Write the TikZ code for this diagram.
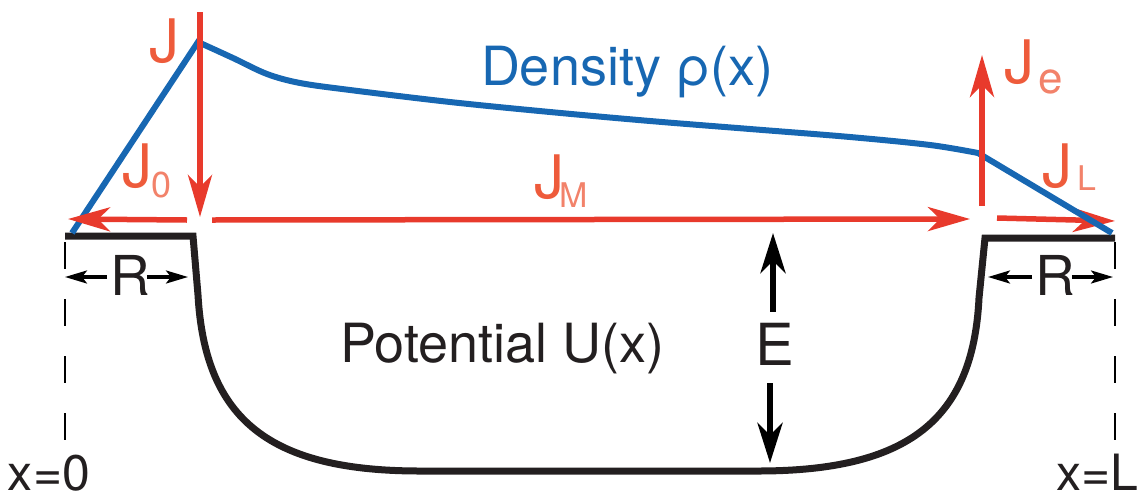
\documentclass[tikz,border=0pt]{standalone}
\usepackage{fontspec}
\setmainfont{TeX Gyre Heros}
\usetikzlibrary{arrows.meta}
\definecolor{myred}{HTML}{E83A2C}
\definecolor{jred}{HTML}{EE5B3B}
\definecolor{subred}{HTML}{F2826A}
\definecolor{myblue}{HTML}{1767B2}
\definecolor{myblack}{HTML}{231F20}
\newcommand\myfs[1]{\fontsize{#1}{#1}\selectfont}
% #1 subscript, #2 subscript size, #3 kern, #4 lowering
\newcommand\Jsub[4]{{\color{jred}J}\kern#3pt\raisebox{-#4pt}{\myfs{#2}\color{subred}#1}}
\begin{document}
\begin{tikzpicture}[x=1pt,y=-1pt,
  txt/.style={inner sep=0pt, outer sep=0pt, text=myblack},
  jlabel/.style={inner sep=0pt, outer sep=0pt, text=jred, font=\myfs{60}},
  redarrow/.style={draw=myred, line width=5.5pt, -{Stealth[length=42pt,width=24pt,inset=12pt]}},
  earrow/.style={draw=black, line width=6pt, -{Stealth[length=40pt,width=25pt,inset=12pt]}},
  rarrow/.style={draw=black, line width=3.2pt, -{Stealth[length=22pt,width=13pt,inset=5pt]}},
  potential/.style={draw=myblack, line width=7pt, line join=miter},
  density/.style={draw=myblue, line width=6pt, line join=miter},
  wall/.style={draw=black, line width=2.5pt, dash pattern=on 27pt off 30pt}]
\useasboundingbox (0,0) rectangle (1139,498);

% coordinates
\coordinate (leftend) at (65,236);
\coordinate (leftcorner) at (193,236);
\coordinate (rightcorner) at (985,238);
\coordinate (rightend) at (1115,238);
\coordinate (wallLtop) at (65,242);
\coordinate (wallLbot) at (65,441);
\coordinate (wallRtop) at (1115,242);
\coordinate (wallRbot) at (1115,441);

% walls
\draw[wall] (wallLtop) -- (wallLbot);
\draw[wall] (wallRtop) -- (wallRbot);

% potential
\draw[potential] (leftend) -- (leftcorner) -- (198,295)
  .. controls (205,420) and (270,471) .. (420,471) -- (758,471)
  .. controls (908,471) and (973,420) .. (979,298) -- (rightcorner) -- (rightend);

% J_L arrow (below density)
\coordinate (JLs) at (997,218);
\coordinate (JLe) at (1115,221);
\draw[redarrow] (JLs) -- (JLe);

% density
\coordinate (rhoL) at (72,233);
\coordinate (rhoR) at (1112,233);
\draw[density] (rhoL) -- plot[smooth, tension=0.55] coordinates {(198,42) (233,58) (267,74) (300,83) (350,90) (450,102) (550,112) (650,121) (750,129) (850,137) (930,145) (978,153)} -- (rhoR);

% red arrows
\coordinate (Jtop) at (200,12);
\coordinate (Jbot) at (200,217);
\coordinate (J0s) at (187,220);
\coordinate (J0e) at (68,219);
\coordinate (JMs) at (212,220);
\coordinate (JMe) at (970,219);
\coordinate (Jes) at (982,206);
\coordinate (Jee) at (982,55);
\draw[redarrow] (Jtop) -- (Jbot);
\draw[redarrow] (J0s) -- (J0e);
\draw[redarrow] (JMs) -- (JMe);
\draw[redarrow] (Jes) -- (Jee);

% labels
\node[jlabel, anchor=base] (J) at (164,62) {J};
\node[jlabel, anchor=base west] (J0) at (122,187) {\Jsub{0}{36}{-1}{10}};
\node[jlabel, anchor=base west] (JM) at (534,198) {\Jsub{M}{34}{-4.5}{9}};
\node[jlabel, anchor=base west] (Je) at (1004,83) {\Jsub{e}{44}{4.4}{10}};
\node[jlabel, anchor=base west] (JL) at (1042,187) {\Jsub{L}{34}{5.4}{3}};

\node[txt, anchor=base west, text=myblue] (dens) at (481,85) {\myfs{54}Density ρ(x)};
\node[txt, anchor=base west] (pot) at (340,362) {\myfs{54}Potential U(x)};
\node[txt, anchor=base] (E) at (775,365) {\myfs{58}E};
\node[txt, anchor=base west] (x0) at (8,490) {\myfs{50}x=0};
\node[txt, anchor=base east] (xL) at (1138,490) {\myfs{50}x=L};
\node[txt, anchor=base] (R1) at (130,295) {\myfs{55}R};
\node[txt, anchor=base] (R2) at (1055,295) {\myfs{55}R};

% E arrows
\coordinate (Eup) at (773,233);
\coordinate (Edown) at (770,463);
\draw[earrow] (E.north -| Eup) ++(0,-11) -- (Eup);
\draw[earrow] (E.south -| Edown) ++(0,18) -- (Edown);

% R arrows
\coordinate (R1l) at (65,277);
\coordinate (R1r) at (188,277);
\coordinate (R2l) at (988,277);
\coordinate (R2r) at (1113,277);
\draw[rarrow] (R1.west |- R1l) ++(-3,0) -- (R1l);
\draw[rarrow] (R1.east |- R1r) ++(-3,0) -- (R1r);
\draw[rarrow] (R2.west |- R2l) ++(-3,0) -- (R2l);
\draw[rarrow] (R2.east |- R2r) ++(-3,0) -- (R2r);
\end{tikzpicture}
\end{document}
